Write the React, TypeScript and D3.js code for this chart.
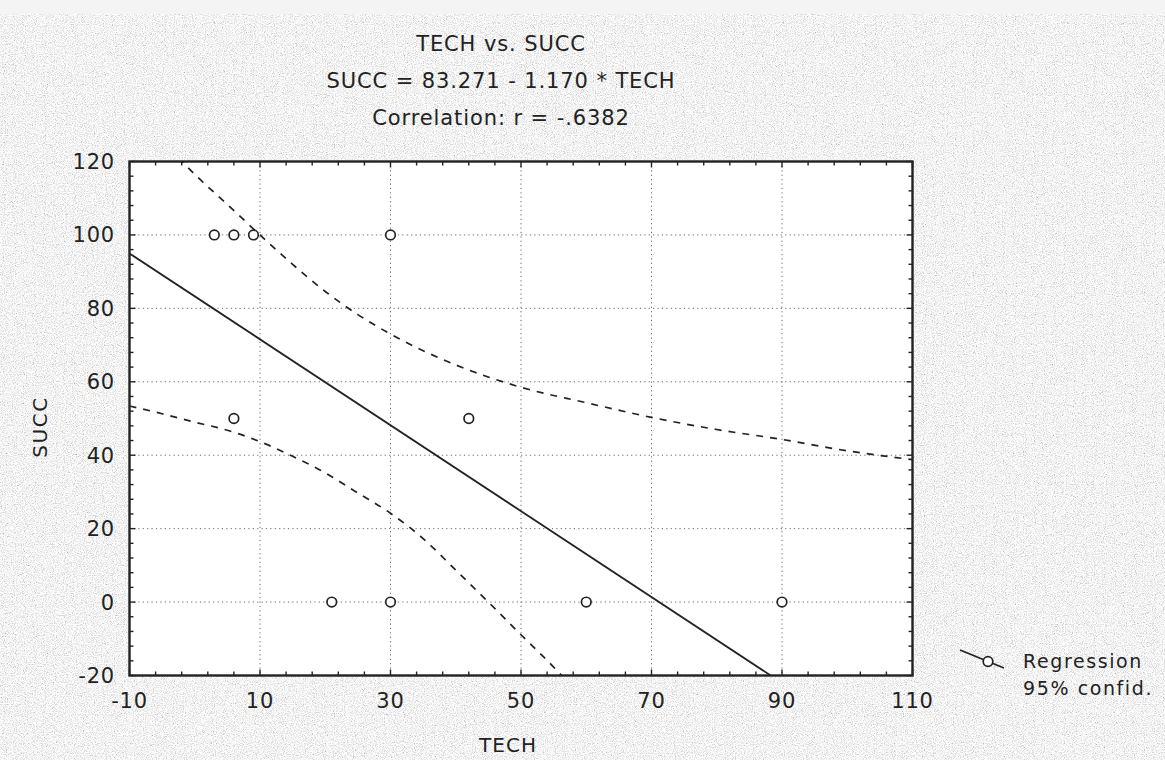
import React from "react";
import * as d3 from "d3";

const W = 1165;
const H = 760;

const X_MAJOR = [-10, 10, 30, 50, 70, 90, 110];
const Y_MAJOR = [-20, 0, 20, 40, 60, 80, 100, 120];

const TECH = [3, 6, 9, 30, 6, 42, 21, 30, 60, 90];
const SUCC = [100, 100, 100, 100, 50, 50, 0, 0, 0, 0];

const REG_INTERCEPT = 83.271;
const REG_SLOPE = -1.17;

const UPPER_TECH = [-2.5, 0, 5, 10, 15, 20, 25, 30, 40, 50, 60, 70, 80, 90, 100, 110];
const UPPER_SUCC = [121, 116.5, 108.3, 100, 92, 84.6, 78.3, 73, 64.6, 58.5, 54.3, 50.3, 47, 44.3, 41.2, 38.8];

const LOWER_TECH = [-10, -5, 0, 5, 10, 15, 20, 25, 30, 35, 40, 45, 50, 55, 56.5];
const LOWER_SUCC = [53.4, 51.3, 49, 46.8, 43.7, 39.7, 35.2, 29.7, 24.2, 17.3, 8.7, 0, -8.9, -17.7, -20.5];

const TITLE_LINES = ["TECH vs. SUCC", "SUCC = 83.271 - 1.170 * TECH", "Correlation: r = -.6382"];
const X_LABEL = "TECH";
const Y_LABEL = "SUCC";
const LEGEND_LINES = ["Regression", "95% confid."];

const FONT = "'DejaVu Sans', 'Liberation Sans', Arial, sans-serif";
const INK = "#222";

export default function App() {
  const x = d3.scaleLinear().domain([-10, 110]).range([129.5, 912.5]);
  const y = d3.scaleLinear().domain([-20, 120]).range([675.5, 161.5]);
  const [x0, x1] = x.range();
  const [y0, y1] = [y(120), y(-20)];

  const xMinor = d3.range(-10, 110.01, 4);
  const yMinor = d3.range(-20, 120.01, 4);

  const regPts: [number, number][] = [-10, 110].map((t) => [t, REG_INTERCEPT + REG_SLOPE * t]);
  const line = d3
    .line<[number, number]>()
    .x((d) => x(d[0]))
    .y((d) => y(d[1]));
  const smooth = d3
    .line<[number, number]>()
    .x((d) => x(d[0]))
    .y((d) => y(d[1]))
    .curve(d3.curveMonotoneX);

  const upper: [number, number][] = UPPER_TECH.map((t, i) => [t, UPPER_SUCC[i]]);
  const lower: [number, number][] = LOWER_TECH.map((t, i) => [t, LOWER_SUCC[i]]);

  return (
    <svg
      width={W}
      height={H}
      style={{ position: "fixed", left: 0, top: 0, display: "block" }}
      fontFamily={FONT}
    >
      <defs>
        <filter id="paper" x="0" y="0" width="100%" height="100%">
          <feTurbulence type="fractalNoise" baseFrequency="0.9" numOctaves="2" seed="7" result="n" />
          <feColorMatrix
            in="n"
            type="matrix"
            values="0.6 0.6 0.6 0 0.0  0.6 0.6 0.6 0 0.0  0.6 0.6 0.6 0 0.0  0 0 0 0 1"
          />
        </filter>
        <clipPath id="plotClip">
          <rect x={x0} y={y0} width={x1 - x0} height={y1 - y0} />
        </clipPath>
      </defs>

      <rect x={0} y={0} width={W} height={H} fill="#d6d6d6" />
      <rect x={0} y={0} width={W} height={H} filter="url(#paper)" />
      <rect x={0} y={0} width={W} height={14} fill="#f4f4f4" />

      {/* titles */}
      {TITLE_LINES.map((t, i) => (
        <text
          key={t}
          x={501}
          y={51 + i * 37}
          textAnchor="middle"
          fontSize={21}
          letterSpacing={0.9}
          fill={INK}
        >
          {t}
        </text>
      ))}

      {/* plot area */}
      <rect x={x0} y={y0} width={x1 - x0} height={y1 - y0} fill="#fff" />

      {/* grid */}
      <g stroke="#666" strokeWidth={1} strokeDasharray="1.2 3.2">
        {X_MAJOR.slice(1, -1).map((t) => (
          <line key={"gx" + t} x1={x(t)} x2={x(t)} y1={y0} y2={y1} />
        ))}
        {Y_MAJOR.slice(1, -1).map((t) => (
          <line key={"gy" + t} x1={x0} x2={x1} y1={y(t)} y2={y(t)} />
        ))}
      </g>

      <g clipPath="url(#plotClip)" fill="none">
        <path d={smooth(upper) || ""} stroke={INK} strokeWidth={1.7} strokeDasharray="7 7" />
        <path d={smooth(lower) || ""} stroke={INK} strokeWidth={1.7} strokeDasharray="7 7" />
        <path d={line(regPts) || ""} stroke={INK} strokeWidth={1.8} />
      </g>

      {/* points */}
      <g fill="#fff" stroke={INK} strokeWidth={1.7}>
        {TECH.map((t, i) => (
          <circle key={i} cx={x(t)} cy={y(SUCC[i])} r={4.8} />
        ))}
      </g>

      {/* ticks, inward on all sides */}
      <g stroke={INK} strokeWidth={1.4}>
        {xMinor.map((t) => {
          const len = X_MAJOR.includes(t) ? 6 : 4;
          return (
            <g key={"tx" + t}>
              <line x1={x(t)} x2={x(t)} y1={y1} y2={y1 - len} />
              <line x1={x(t)} x2={x(t)} y1={y0} y2={y0 + len} />
            </g>
          );
        })}
        {yMinor.map((t) => {
          const len = Y_MAJOR.includes(t) ? 6 : 4;
          return (
            <g key={"ty" + t}>
              <line x1={x0} x2={x0 + len} y1={y(t)} y2={y(t)} />
              <line x1={x1} x2={x1 - len} y1={y(t)} y2={y(t)} />
            </g>
          );
        })}
      </g>

      {/* frame */}
      <rect x={x0} y={y0} width={x1 - x0} height={y1 - y0} fill="none" stroke={INK} strokeWidth={2.4} />

      {/* tick labels */}
      {X_MAJOR.map((t) => (
        <text
          key={"lx" + t}
          x={x(t)}
          y={708}
          textAnchor="middle"
          fontSize={21}
          letterSpacing={0.8}
          fill={INK}
        >
          {t}
        </text>
      ))}
      {Y_MAJOR.map((t) => (
        <text
          key={"ly" + t}
          x={115}
          y={y(t) + 7.5}
          textAnchor="end"
          fontSize={21}
          letterSpacing={0.8}
          fill={INK}
        >
          {t}
        </text>
      ))}

      {/* axis titles */}
      <text x={508} y={752} textAnchor="middle" fontSize={20} letterSpacing={1} fill={INK}>
        {X_LABEL}
      </text>
      <text
        transform={`translate(47, 427) rotate(-90)`}
        textAnchor="middle"
        fontSize={20}
        letterSpacing={1.5}
        fill={INK}
      >
        {Y_LABEL}
      </text>

      {/* legend */}
      <g>
        <line x1={960} y1={650} x2={1004} y2={668} stroke={INK} strokeWidth={1.7} />
        <circle cx={988} cy={661.5} r={4.8} fill="#fff" stroke={INK} strokeWidth={1.7} />
        <text x={1023} y={668} fontSize={19} letterSpacing={1.6} fill={INK}>
          {LEGEND_LINES[0]}
        </text>
        <text x={1023} y={695} fontSize={19} letterSpacing={1.6} fill={INK}>
          {LEGEND_LINES[1]}
        </text>
      </g>
    </svg>
  );
}
